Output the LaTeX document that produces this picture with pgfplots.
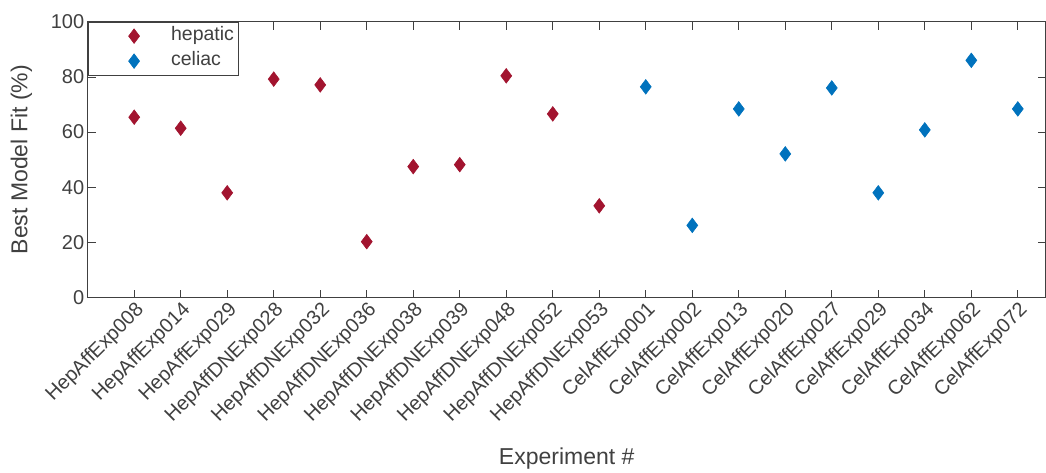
\documentclass[border=0pt]{standalone}
\usepackage{fontspec}
\setmainfont{Liberation Sans}
\usepackage{pgfplots}
\pgfplotsset{compat=1.18}
\definecolor{hep}{HTML}{A2142F}
\definecolor{cel}{HTML}{0072BD}
\definecolor{axc}{HTML}{404040}
\begin{document}
\begin{tikzpicture}
\begin{axis}[
  scale only axis, width=958pt, height=276pt,
  xmin=-1, xmax=19.6, ymin=0, ymax=100,
  xtick={0,...,19},
  xticklabels={HepAffExp008,HepAffExp014,HepAffExp029,HepAffDNExp028,HepAffDNExp032,HepAffDNExp036,HepAffDNExp038,HepAffDNExp039,HepAffDNExp048,HepAffDNExp052,HepAffDNExp053,CelAffExp001,CelAffExp002,CelAffExp013,CelAffExp020,CelAffExp027,CelAffExp029,CelAffExp034,CelAffExp062,CelAffExp072},
  ytick={0,20,...,100},
  tick align=inside, major tick length=8pt,
  axis line style={axc, line width=0.8pt},
  every tick/.style={axc, line width=0.8pt},
  tick label style={font=\fontsize{20}{23}\selectfont, text=axc},
  /pgf/number format/assume math mode=true,
  x tick label style={rotate=45, anchor=north east, inner sep=2pt},
  xlabel={Experiment \#},
  ylabel={Best Model Fit (\%)},
  label style={font=\fontsize{23}{26}\selectfont, text=axc},
  xlabel style={at={([yshift=-147pt]rel axis cs:0.5,0)}, anchor=north},
  ylabel style={at={([xshift=-52pt]rel axis cs:0,0.5)}, anchor=south, rotate=0},
  legend style={at={(0,1)}, anchor=north west, draw=axc, line width=0.8pt,
    font=\fontsize{19.5}{22}\selectfont, text=axc, inner xsep=0pt, inner ysep=2.5pt,
    row sep=2pt, nodes={inner ysep=2pt, inner xsep=4pt, text height=14pt, text depth=5pt}},
  legend cell align=left,
  legend image code/.code={\path[draw=none,fill=none] (0pt,-1pt) rectangle (79pt,1pt);\draw[#1] plot coordinates {(46pt,0pt)};},
]
\addplot[only marks, mark=diamond*, mark size=7.3pt, color=hep, mark options={line width=0.6pt, fill=hep, draw=hep}] coordinates {
(0,65.4) (1,61.4) (2,38.0) (3,79.2) (4,77.1) (5,20.3) (6,47.5) (7,48.2) (8,80.4) (9,66.6) (10,33.3)};
\addlegendentry{hepatic}
\addplot[only marks, mark=diamond*, mark size=7.3pt, color=cel, mark options={line width=0.6pt, fill=cel, draw=cel}] coordinates {
(11,76.4) (12,26.2) (13,68.4) (14,52.1) (15,76.0) (16,38.0) (17,60.8) (18,86.0) (19,68.4)};
\addlegendentry{celiac}
\coordinate (bl) at (rel axis cs:0,0);
\end{axis}
\pgfresetboundingbox
\path ([shift={(-87.7pt,-174.3pt)}]bl) rectangle ([shift={(958.3pt,297.7pt)}]bl);
\end{tikzpicture}
\end{document}
